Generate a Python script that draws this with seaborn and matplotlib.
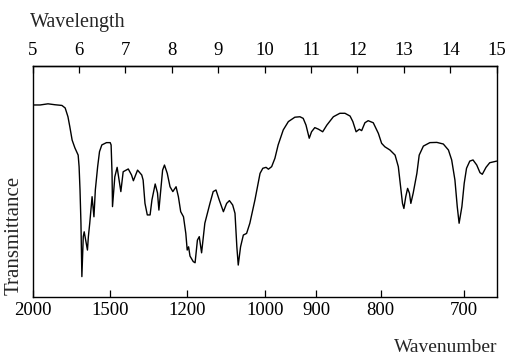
# ir_spectrum.py

import matplotlib
matplotlib.use("Agg")
import matplotlib.pyplot as plt
import seaborn as sns

# spectrum: wavelength (micrometres) and transmittance (% of frame height)
wavelength = [
    5.00, 5.16, 5.33, 5.48, 5.63, 5.70, 5.76, 5.80, 5.85, 5.91, 5.98, 6.00, 6.02, 6.04,
    6.06, 6.09, 6.11, 6.18, 6.20, 6.23, 6.28, 6.32, 6.35, 6.40, 6.44, 6.49, 6.59, 6.67,
    6.69, 6.71, 6.72, 6.77, 6.82, 6.90, 6.95, 7.06, 7.13, 7.17, 7.26, 7.35, 7.38, 7.42,
    7.47, 7.53, 7.57, 7.64, 7.69, 7.72, 7.76, 7.80, 7.84, 7.90, 7.96, 8.02, 8.09, 8.14,
    8.19, 8.25, 8.30, 8.33, 8.36, 8.39, 8.46, 8.50, 8.55, 8.59, 8.64, 8.71, 8.82, 8.89,
    8.95, 9.02, 9.11, 9.18, 9.24, 9.31, 9.36, 9.40, 9.43, 9.48, 9.54, 9.61, 9.68, 9.79,
    9.90, 9.96, 10.03, 10.08, 10.15, 10.22, 10.29, 10.40, 10.51, 10.65, 10.76, 10.83,
    10.89, 10.96, 11.01, 11.08, 11.16, 11.25, 11.34, 11.48, 11.62, 11.73, 11.84, 11.90,
    11.97, 12.04, 12.09, 12.16, 12.23, 12.34, 12.45, 12.52, 12.59, 12.70, 12.81, 12.88,
    12.93, 12.97, 13.00, 13.04, 13.08, 13.12, 13.15, 13.20, 13.28, 13.33, 13.42, 13.56,
    13.71, 13.85, 13.96, 14.03, 14.10, 14.15, 14.19, 14.25, 14.30, 14.35, 14.42, 14.49,
    14.57, 14.64, 14.69, 14.77, 14.85, 15.00,
]
transmittance = [
    83.0, 83.0, 83.5, 83.1, 82.8, 81.7, 77.9, 73.6, 67.8, 64.4, 61.3, 56.3, 46.2, 31.9,
    8.7, 26.0, 28.1, 20.2, 26.0, 31.9, 43.3, 34.6, 46.2, 56.3, 62.8, 65.7, 66.7, 66.7,
    65.7, 53.4, 39.0, 51.9, 56.0, 45.5, 54.1, 55.3, 52.7, 50.2, 54.8, 52.7, 50.5, 40.4,
    35.4, 35.4, 41.9, 48.8, 44.9, 37.5, 46.2, 54.8, 57.0, 53.4, 47.6, 45.5, 47.6, 43.3,
    36.8, 34.6, 27.4, 20.2, 21.6, 17.6, 15.2, 14.7, 24.5, 26.0, 19.0, 31.8, 40.4, 45.5,
    46.2, 41.9, 36.8, 40.4, 41.6, 39.7, 36.1, 21.6, 13.7, 21.6, 26.7, 27.4, 31.8, 41.9,
    53.4, 55.6, 56.0, 55.2, 56.3, 59.9, 65.7, 72.2, 75.8, 77.7, 77.9, 77.2,
    74.3, 68.6, 71.4, 73.2, 72.5, 71.4, 74.3, 77.9, 79.4, 79.4, 78.2, 75.8,
    71.4, 72.5, 71.9, 75.3, 76.2, 75.3, 70.7, 66.4, 64.9, 63.5, 61.3, 56.3,
    47.6, 40.4, 38.2, 43.3, 46.9, 44.8, 40.4, 44.8, 53.4, 61.3, 65.2, 66.7,
    66.8, 66.1, 63.5, 59.2, 50.5, 39.0, 31.8, 39.0, 49.1, 55.6, 58.7, 59.2,
    57.0, 53.7, 53.0, 56.0, 58.0, 58.7,
]

top_ticks = [5, 6, 7, 8, 9, 10, 11, 12, 13, 14, 15]
wavenumber_ticks = [2000, 1500, 1200, 1000, 900, 800, 700]

sns.set_style("ticks")
plt.rcParams["font.family"] = ["Liberation Serif", "DejaVu Serif"]
plt.rcParams["font.size"] = 13


def main():
    fig = plt.figure(figsize=(5.1, 3.6), dpi=100)
    ax = fig.add_axes([0.0641, 0.1758, 0.9098, 0.6417])

    sns.lineplot(x=wavelength, y=transmittance, ax=ax, color="black",
                 linewidth=1.0, sort=False, estimator=None)
    ax.set_xlim(5, 15)
    ax.set_ylim(0, 100)
    ax.set_yticks([])

    for side in ["top", "bottom", "left", "right"]:
        ax.spines[side].set_visible(True)
        ax.spines[side].set_linewidth(1.0)
        ax.spines[side].set_color("black")

    # bottom axis: wavenumber labels at 10000 / wavenumber
    ax.set_xticks([10000 / wn for wn in wavenumber_ticks])
    ax.set_xticklabels([str(wn) for wn in wavenumber_ticks])
    ax.tick_params(axis="x", direction="in", length=5, width=0.9, pad=4,
                   labelsize=13.5, colors="black")

    # top axis: wavelength in micrometres
    top = ax.secondary_xaxis("top")
    top.set_xticks(top_ticks)
    top.set_xticklabels([str(t) for t in top_ticks])
    top.tick_params(direction="in", length=5, width=0.9, pad=5,
                    labelsize=13.5, colors="black")
    top.spines["top"].set_linewidth(1.0)

    ax.set_xlabel("")
    ax.set_ylabel("")
    fig.text(30 / 510, 1 - 27.5 / 360, "Wavelength", ha="left", va="baseline", fontsize=14.5)
    fig.text(497 / 510, 1 - 352 / 360, "Wavenumber", ha="right", va="baseline", fontsize=14)
    fig.text(14.5 / 510, 1 - 295 / 360, "Transmittance", rotation=90,
             ha="center", va="bottom", fontsize=15)

    fig.savefig("out.png", dpi=100)


if __name__ == "__main__":
    main()
